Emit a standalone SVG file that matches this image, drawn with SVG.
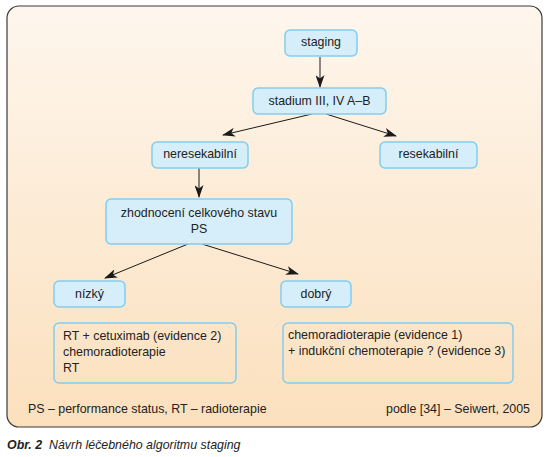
<svg xmlns="http://www.w3.org/2000/svg" width="549" height="457" viewBox="0 0 549 457">
<defs>
<linearGradient id="bg" x1="0" y1="0" x2="0" y2="1">
<stop offset="0" stop-color="#fef6ed"/>
<stop offset="1" stop-color="#fbe0bd"/>
</linearGradient>
<marker id="ah" viewBox="0 0 13 9" refX="12" refY="4.5" markerWidth="13" markerHeight="9" markerUnits="userSpaceOnUse" orient="auto">
<path d="M0,0 L13,4.5 L0,9 L3.5,4.5 Z" fill="#1a1a1a"/>
</marker>
</defs>
<style>
.t{font-family:"Liberation Sans",Arial,sans-serif;font-size:12.4px;fill:#222}
.c{text-anchor:middle}
.n{fill:#d6eefa;stroke:#82cdef;stroke-width:1.5}
.b{fill:none;stroke:#82cdef;stroke-width:1.5}
.e{stroke:#1a1a1a;stroke-width:1;fill:none;marker-end:url(#ah)}
</style>
<rect x="7" y="6" width="535" height="421" rx="12" fill="url(#bg)" stroke="#3a3a3a" stroke-width="1.2"/>
<g id="connectors">
<line class="e" x1="320" y1="57" x2="320" y2="87"/>
<line class="e" x1="312" y1="114" x2="223" y2="135"/>
<line class="e" x1="326" y1="114" x2="396" y2="136"/>
<line class="e" x1="199" y1="168" x2="199" y2="197"/>
<line class="e" x1="188" y1="244" x2="105" y2="278"/>
<line class="e" x1="202" y1="244" x2="298" y2="274"/>
</g>
<g id="staging"><rect class="n" x="285" y="30" width="72" height="26" rx="5"/><text class="t c" x="321" y="46">staging</text></g>
<g id="stadium"><rect class="n" x="253" y="88" width="133" height="26" rx="5"/><text class="t c" x="319.5" y="105">stadium III, IV A–B</text></g>
<g id="neresekabilni"><rect class="n" x="152" y="142" width="96" height="26" rx="5"/><text class="t c" x="200" y="158">neresekabilní</text></g>
<g id="resekabilni"><rect class="n" x="380" y="142" width="97" height="26" rx="5"/><text class="t c" x="428.5" y="158">resekabilní</text></g>
<g id="zhodnoceni"><rect class="n" x="106" y="199" width="186" height="45" rx="5"/><text class="t c" x="199" y="217">zhodnocení celkového stavu</text><text class="t c" x="199" y="233">PS</text></g>
<g id="nizky"><rect class="n" x="54" y="281" width="71" height="26" rx="5"/><text class="t c" x="89.5" y="298">nízký</text></g>
<g id="dobry"><rect class="n" x="281" y="281" width="70" height="26" rx="5"/><text class="t c" x="316" y="298">dobrý</text></g>
<g id="left-box"><rect class="b" x="54" y="323" width="182" height="60" rx="5"/>
<text class="t" x="63" y="340">RT + cetuximab (evidence 2)</text>
<text class="t" x="63" y="356">chemoradioterapie</text>
<text class="t" x="63" y="372">RT</text></g>
<g id="right-box"><rect class="b" x="283" y="323" width="230" height="60" rx="5"/>
<text class="t" x="288" y="339">chemoradioterapie (evidence 1)</text>
<text class="t" x="288" y="355">+ indukční chemoterapie ? (evidence 3)</text></g>
<g id="footer">
<text class="t" x="28" y="413">PS – performance status, RT – radioterapie</text>
<text class="t" x="530" y="413" text-anchor="end">podle [34] – Seiwert, 2005</text>
</g>
<text class="t" y="449" font-style="italic" font-size="12.8"><tspan x="7" font-weight="bold">Obr. 2</tspan><tspan x="49">Návrh léčebného algoritmu staging</tspan></text>
</svg>
